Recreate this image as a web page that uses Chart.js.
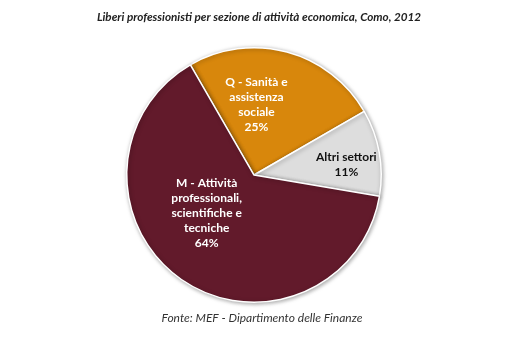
<!DOCTYPE html>
<html>
<head>
<meta charset="utf-8">
<script src="https://cdn.jsdelivr.net/npm/chart.js@4"></script>
<style>
    html, body { margin: 0; padding: 0; background: #ffffff; }
    #wrap { width: 510px; height: 351px; }
</style>
</head>
<body>
<div id="wrap"><canvas id="myChart" width="510" height="351"></canvas></div>
<script>
var titleText = 'Liberi professionisti per sezione di attività economica, Como, 2012';
var sourceText = 'Fonte: MEF - Dipartimento delle Finanze';

var categories = [
    ['Q - Sanità e', 'assistenza', 'sociale'],
    ['Altri settori'],
    ['M - Attività', 'professionali,', 'scientifiche e', 'tecniche']
];
var shares = [25, 11, 64];

var sliceColors = ['#d8870c', '#dddddd', '#621a2b'];
var labelColors = ['#ffffff', '#111111', '#ffffff'];

// where each label sits: fraction of radius, and angle nudge (deg)
var labelPlace = [
    { r: 0.55, turn: -13 },
    { r: 0.73, turn: 4 },
    { r: 0.48, turn: 16 }
];

var textPlugin = {
    id: 'textPlugin',
    beforeDatasetsDraw: function(chart) {
        var ctx = chart.ctx;
        ctx.save();
        ctx.shadowColor = 'rgba(0,0,0,0.35)';
        ctx.shadowBlur = 4;
        ctx.shadowOffsetX = 1;
        ctx.shadowOffsetY = 1;
    },
    afterDatasetsDraw: function(chart) {
        var ctx = chart.ctx;
        ctx.restore();
        var meta = chart.getDatasetMeta(0);
        ctx.save();
        ctx.textAlign = 'center';
        ctx.textBaseline = 'middle';
        ctx.font = 'bold 12px Lato, "Open Sans", sans-serif';
        meta.data.forEach(function(arc, i) {
            var p = arc.getProps(['x', 'y', 'startAngle', 'endAngle', 'outerRadius'], true);
            var mid = (p.startAngle + p.endAngle) / 2 + labelPlace[i].turn * Math.PI / 180;
            var cx = p.x + Math.cos(mid) * p.outerRadius * labelPlace[i].r;
            var cy = p.y + Math.sin(mid) * p.outerRadius * labelPlace[i].r;
            var lines = categories[i].concat([shares[i] + '%']);
            var lh = 15;
            var y0 = cy - (lines.length - 1) * lh / 2;
            ctx.fillStyle = labelColors[i];
            lines.forEach(function(t, k) {
                ctx.fillText(t, cx, y0 + k * lh);
            });
        });
        ctx.restore();
    },
    afterDraw: function(chart) {
        var ctx = chart.ctx;
        ctx.save();
        ctx.textAlign = 'center';
        ctx.textBaseline = 'middle';
        ctx.fillStyle = '#222222';
        ctx.font = 'italic bold 11.7px Lato, "Open Sans", sans-serif';
        ctx.fillText(titleText, 259, 17);
        ctx.fillStyle = '#333333';
        ctx.font = 'italic 12px Lato, "Open Sans", sans-serif';
        ctx.fillText(sourceText, 262, 318);
        ctx.restore();
    }
};

var ctx = document.getElementById('myChart').getContext('2d');
var chart = new Chart(ctx, {
    type: 'pie',
    data: {
        labels: categories.map(function(c) { return c.join(' '); }),
        datasets: [{
            data: shares,
            backgroundColor: sliceColors,
            borderColor: '#ffffff',
            borderWidth: 1.5
        }]
    },
    options: {
        responsive: false,
        animation: false,
        rotation: -30,
        layout: { padding: { top: 47, bottom: 48, left: 0, right: 2 } },
        plugins: {
            legend: { display: false },
            tooltip: { enabled: false },
            title: { display: false }
        }
    },
    plugins: [textPlugin]
});
</script>
</body>
</html>
